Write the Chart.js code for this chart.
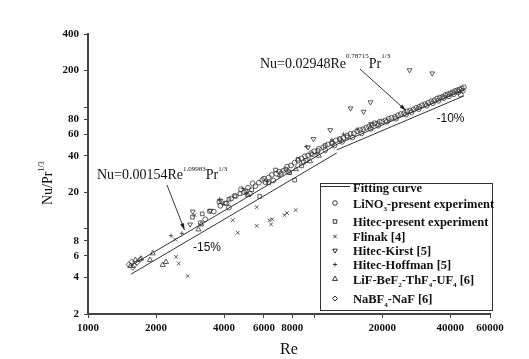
<!DOCTYPE html>
<html>
<head>
<meta charset="utf-8">
<script src="https://cdn.jsdelivr.net/npm/chart.js@4.4.0/dist/chart.umd.min.js"></script>
<style>
  html, body { margin: 0; padding: 0; background: #fff; }
  #wrap { width: 529px; height: 359px; }
</style>
</head>
<body>
<div id="wrap"><canvas id="chart" width="529" height="359"></canvas></div>
<script>
// Оси: деления и подписи
const xTicks = [1000, 2000, 4000, 6000, 8000, 10000, 20000, 40000, 60000];
const yTicks = [2, 4, 6, 8, 10, 20, 40, 60, 80, 100, 200, 400];
const unlabeled = [10, 100, 10000];

// Данные [Re, Nu/Pr^1/3]
const lino3 = [
  [3150, 11.2], [3300, 12.0], [3600, 13.9], [3850, 15.5], [4100, 16.2], [4300, 17.8],
  [4500, 18.6], [4750, 21.2], [4900, 20.0], [5100, 21.8], [5350, 23.7], [5500, 22.5],
  [5700, 24.0], [5900, 25.2], [6100, 24.2], [6300, 26.5], [6500, 27.8], [6800, 28.5],
  [7000, 29.6], [7300, 30.0], [7600, 32.5], [7900, 33.2], [8200, 35.0], [8500, 36.4],
  [8800, 38.0], [9100, 39.5], [9400, 40.2], [9700, 42.0], [10000, 43.5],
  [10500, 45.5], [11000, 47.0], [11500, 49.5], [12000, 51.0], [12500, 53.5], [13000, 55.0],
  [13500, 56.0], [14000, 58.5], [14500, 60.5], [15000, 61.0], [15500, 63.5], [16000, 65.0],
  [16500, 66.0], [17000, 68.0], [17500, 69.5], [18000, 71.0], [18500, 74.0], [19000, 73.5],
  [19500, 76.0], [20000, 76.5], [20700, 78.0], [21400, 80.5], [22000, 82.0], [22800, 83.5],
  [23500, 86.0], [24200, 88.0], [25000, 89.5], [25800, 92.5], [26600, 94.0], [27500, 96.0],
  [28300, 99.0], [29200, 101], [30000, 104], [31000, 106], [32000, 109], [33000, 112],
  [34000, 114], [35000, 118], [36000, 120], [37000, 122], [38000, 126], [39000, 128],
  [40000, 130], [41000, 133], [42000, 136], [43000, 138], [44000, 140], [45000, 143], [46000, 146],
  [11200, 44.5], [12300, 48.5], [13300, 52.0], [14800, 56.5], [16200, 61.0], [17800, 66.5],
  [19200, 70.5], [21000, 76.0], [23000, 80.5], [25500, 87.0], [27000, 91.0], [29000, 96.5],
  [31500, 103], [33500, 108], [35500, 113], [37500, 119], [39500, 123], [41500, 128],
  [43500, 133], [44500, 127], [45500, 137],
  [4200, 15.0], [5200, 19.5], [6600, 25.0], [7700, 29.5], [9000, 35.5]
];
const hitecPresent = [
  [2900, 12.5], [3200, 13.3], [3450, 14.0], [3800, 16.7], [4050, 16.3], [4200, 17.5],
  [4450, 18.7], [4700, 19.5], [5000, 20.5], [5300, 21.0], [5750, 18.5], [6000, 26.0],
  [6300, 24.0], [6750, 30.5], [7150, 28.7], [7500, 31.0], [7800, 29.0], [8200, 25.2],
  [8500, 37.4], [8800, 33.0], [9200, 36.5], [9800, 40.8], [10400, 44.0], [11200, 48.5],
  [12000, 50.5], [13000, 54.0], [14000, 57.0]
];
const flinak = [
  [2430, 8.2], [2450, 5.9], [2520, 5.2], [2760, 4.1], [2960, 13.0], [4365, 11.8],
  [4594, 9.3], [5575, 15.1], [5575, 10.6], [6346, 11.8], [6450, 10.9], [6530, 12.0],
  [7396, 13.0], [7592, 13.5], [8290, 14.3]
];
const hitecKirst = [
  [2830, 10.9], [2905, 13.9], [3480, 14.1], [3855, 17.1], [9400, 46.9], [9940, 54.9],
  [11790, 65.0], [14490, 98.0], [16560, 92.0], [17770, 110], [17900, 72.9],
  [26440, 202], [33320, 190]
];
const hitecHoffman = [
  [2330, 8.8], [2600, 9.2], [3820, 17.5], [3950, 16.0], [4840, 21.5], [5000, 19.5],
  [6200, 24.5], [7000, 27.0], [9230, 47.4], [10200, 41.5], [12000, 54.0], [13500, 60.0],
  [15500, 66.0]
];
const lifBef = [
  [1540, 4.96], [1620, 5.56], [1716, 5.7], [1880, 5.56], [1932, 6.3], [2140, 5.06],
  [2212, 5.35], [3080, 9.9], [3165, 10.9], [5100, 19.0], [8300, 31.0], [9600, 36.0],
  [10500, 40.0]
];
const nabf4 = [
  [1513, 5.1], [1560, 5.4], [1600, 5.0], [1650, 5.3], [1700, 5.6], [1580, 4.8]
];

// Линии аппроксимации (концы)
const fitLow = [[1550, 5.0], [12600, 49.5]];
const fitLow15 = [[1550, 4.25], [12600, 42.1]];
const fitHigh = [[12600, 49.5], [46000, 138]];
const fitHigh10 = [[12600, 44.6], [46000, 124]];

const serif = '"Liberation Serif", "Times New Roman", serif';
const ink = '#333';

function pts(arr) {
  return arr.map((p) => ({ x: p[0], y: p[1] }));
}

function markerSet(label, arr, style, radius, rotation) {
  return {
    label: label,
    data: pts(arr),
    pointStyle: style,
    pointRadius: radius,
    pointRotation: rotation || 0,
    pointBorderWidth: 0.8,
    pointBorderColor: ink,
    pointBackgroundColor: 'rgba(255,255,255,0)',
    showLine: false,
  };
}

function lineSet(arr) {
  return {
    data: pts(arr),
    showLine: true,
    borderColor: '#333',
    borderWidth: 1,
    pointRadius: 0,
    fill: false,
  };
}

// Текст с индексами: части [текст, 'n' | 'sup' | 'sub']
function richText(ctx, x, y, parts, size, weight, supDy, supScale) {
  parts.forEach(([txt, kind]) => {
    const s = kind === 'n' ? size : Math.round(size * (supScale || 0.55));
    let dy = 0;
    if (kind === 'sup') dy = supDy;
    if (kind === 'sub') dy = size * 0.28;
    ctx.font = `${weight} ${s}px ${serif}`;
    ctx.fillText(txt, x, y + dy);
    x += ctx.measureText(txt).width;
  });
  return x;
}

function arrow(ctx, x1, y1, x2, y2) {
  ctx.beginPath();
  ctx.moveTo(x1, y1);
  ctx.lineTo(x2, y2);
  ctx.stroke();
  const a = Math.atan2(y2 - y1, x2 - x1);
  ctx.beginPath();
  ctx.moveTo(x2, y2);
  ctx.lineTo(x2 - 7 * Math.cos(a - 0.3), y2 - 7 * Math.sin(a - 0.3));
  ctx.lineTo(x2 - 7 * Math.cos(a + 0.3), y2 - 7 * Math.sin(a + 0.3));
  ctx.closePath();
  ctx.fill();
}

const legendItems = [
  { parts: [['LiNO', 'n'], ['3', 'sub'], ['-present experiment', 'n']], style: 'circle', r: 2.3, y: 203 },
  { parts: [['Hitec-present experiment', 'n']], style: 'rect', r: 2.5, y: 221.5 },
  { parts: [['Flinak [4]', 'n']], style: 'crossRot', r: 2.5, y: 236.5 },
  { parts: [['Hitec-Kirst [5]', 'n']], style: 'triangle', r: 2.7, rot: 180, y: 250.5 },
  { parts: [['Hitec-Hoffman [5]', 'n']], style: 'cross', r: 2, y: 264.5 },
  { parts: [['LiF-BeF', 'n'], ['2', 'sub'], ['-ThF', 'n'], ['4', 'sub'], ['-UF', 'n'], ['4', 'sub'], [' [6]', 'n']], style: 'triangle', r: 2.9, y: 279 },
  { parts: [['NaBF', 'n'], ['4', 'sub'], ['-NaF [6]', 'n']], style: 'rectRot', r: 2.5, y: 298.5 },
];

const overlay = {
  id: 'overlay',
  afterDraw(chart) {
    const ctx = chart.ctx;
    ctx.save();
    ctx.fillStyle = '#111';
    ctx.strokeStyle = '#222';
    ctx.textBaseline = 'alphabetic';
    ctx.textAlign = 'left';

    // Подпись оси X
    ctx.font = `16px ${serif}`;
    ctx.textAlign = 'center';
    ctx.fillText('Re', 289, 354);
    ctx.textAlign = 'left';

    // Подпись оси Y (повернута)
    ctx.save();
    ctx.translate(52, 205);
    ctx.rotate(-Math.PI / 2);
    richText(ctx, 0, 0, [['Nu/Pr', 'n'], ['1/3', 'sup']], 14, 'normal', -8);
    ctx.restore();

    // Формулы и стрелки
    richText(ctx, 260, 67.5, [['Nu=0.02948Re', 'n'], ['0.78715', 'sup'], ['Pr', 'n'], ['1/3', 'sup']], 14, 'normal', -9.5, 0.5);
    richText(ctx, 97, 178.5, [['Nu=0.00154Re', 'n'], ['1.09983', 'sup'], ['Pr', 'n'], ['1/3', 'sup']], 14, 'normal', -7.5, 0.5);
    ctx.lineWidth = 0.9;
    ctx.fillStyle = '#222';
    arrow(ctx, 360, 69, 406, 110.5);
    arrow(ctx, 167, 185, 184.5, 230);

    ctx.font = '12px "Liberation Sans", Arial, sans-serif';
    ctx.fillStyle = '#111';
    ctx.fillText('-10%', 436.5, 122);
    ctx.fillText('-15%', 193, 251);

    // Легенда
    ctx.strokeStyle = '#333';
    ctx.lineWidth = 1;
    ctx.strokeRect(320.5, 183.5, 172, 127);
    ctx.beginPath();
    ctx.moveTo(320.5, 186.5);
    ctx.lineTo(350, 186.5);
    ctx.stroke();
    ctx.fillStyle = '#111';
    richText(ctx, 353, 192, [['Fitting curve', 'n']], 12.5, 'bold', 0);
    legendItems.forEach((it) => {
      ctx.strokeStyle = ink;
      ctx.fillStyle = 'rgba(255,255,255,0)';
      Chart.helpers.drawPoint(ctx, {
        pointStyle: it.style,
        radius: it.r,
        rotation: it.rot || 0,
        borderWidth: 0.8,
      }, 335, it.y);
      ctx.fillStyle = '#111';
      richText(ctx, 353, it.y + 4.5, it.parts, 12.5, 'bold', 0);
    });
    ctx.restore();
  },
};

const ctx = document.getElementById('chart').getContext('2d');

new Chart(ctx, {
  type: 'scatter',
  data: {
    datasets: [
      markerSet('LiNO3-present experiment', lino3, 'circle', 2.4),
      markerSet('Hitec-present experiment', hitecPresent, 'rect', 2.6),
      markerSet('Flinak [4]', flinak, 'crossRot', 2.6),
      markerSet('Hitec-Kirst [5]', hitecKirst, 'triangle', 2.8, 180),
      markerSet('Hitec-Hoffman [5]', hitecHoffman, 'cross', 2.1),
      markerSet('LiF-BeF2-ThF4-UF4 [6]', lifBef, 'triangle', 3),
      markerSet('NaBF4-NaF [6]', nabf4, 'rectRot', 2.6),
      lineSet(fitLow),
      lineSet(fitLow15),
      lineSet(fitHigh),
      lineSet(fitHigh10),
    ],
  },
  options: {
    responsive: false,
    animation: false,
    devicePixelRatio: 1,
    layout: {
      padding: { left: 0, top: 34, right: 39, bottom: 0 },
    },
    plugins: {
      legend: { display: false },
      tooltip: { enabled: false },
    },
    scales: {
      x: {
        type: 'logarithmic',
        position: 'bottom',
        min: 1000,
        max: 60000,
        afterBuildTicks: (scale) => {
          scale.ticks = xTicks.map((v) => ({ value: v }));
        },
        afterFit: (scale) => {
          scale.height = 45;
        },
        ticks: {
          autoSkip: false,
          maxRotation: 0,
          padding: 4,
          color: '#111',
          font: { family: serif, size: 11, weight: 'bold' },
          callback: (v) => (unlabeled.includes(v) ? '' : String(v)),
        },
        grid: {
          drawOnChartArea: false,
          drawTicks: true,
          tickLength: 4,
          color: '#444',
        },
        border: { display: true, color: '#444', width: 2 },
      },
      y: {
        type: 'logarithmic',
        position: 'left',
        min: 2,
        max: 400,
        afterBuildTicks: (scale) => {
          scale.ticks = yTicks.map((v) => ({ value: v }));
        },
        afterFit: (scale) => {
          scale.width = 88;
        },
        ticks: {
          autoSkip: false,
          padding: 5,
          color: '#111',
          font: { family: serif, size: 11, weight: 'bold' },
          callback: (v) => (unlabeled.includes(v) ? '' : String(v)),
        },
        grid: {
          drawOnChartArea: false,
          drawTicks: true,
          tickLength: 4,
          color: '#444',
        },
        border: { display: true, color: '#444', width: 2 },
      },
    },
  },
  plugins: [overlay],
});
</script>
</body>
</html>
